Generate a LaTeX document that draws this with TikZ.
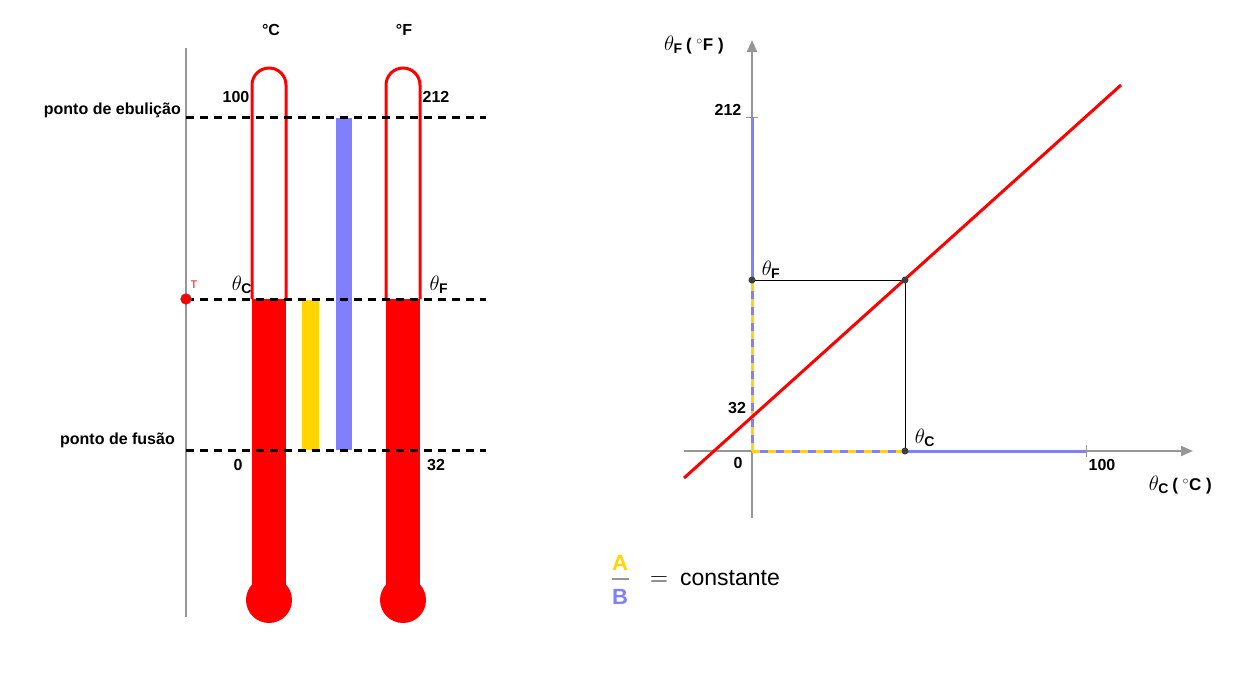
\documentclass[tikz,border=0pt]{standalone}
\usepackage{fontspec}
\setsansfont{Liberation Sans}
\newfontfamily\lab{Liberation Sans}
\usetikzlibrary{arrows.meta}
\definecolor{tred}{RGB}{255,0,0}
\definecolor{tblue}{RGB}{128,128,255}
\definecolor{tyel}{RGB}{255,214,0}
\definecolor{axg}{RGB}{150,150,150}
\newcommand{\subl}[1]{\hbox{\lab\bfseries\fontsize{14}{15}\selectfont #1}}
\tikzset{
 lbl/.style={font=\lab\bfseries\fontsize{16}{18}\selectfont, inner sep=0pt},
 th/.style={font=\fontsize{20}{22}\selectfont, inner sep=0pt},
 dl/.style={black, line width=3pt, dash pattern=on 8pt off 6pt},
 tube/.style={tred, line width=3pt},
 dot/.style={circle, fill=black!75, inner sep=0pt, minimum size=7pt},
 ax/.style={axg, line width=2pt, -{Triangle[length=12pt,width=10pt]}},
}
\begin{document}
\begin{tikzpicture}[x=1pt,y=-1pt]
\useasboundingbox (0,0) rectangle (1258,683);
% left panel
\draw[axg, line width=1.6pt] (186,48) -- (186,617);
% fills
\fill[tred] (252,299) rectangle (286,590);
\fill[tred] (269,600) circle (23);
\fill[tred] (386,299) rectangle (420,590);
\fill[tred] (403,600) circle (23);
\fill[tyel] (302,300) rectangle (319,450);
\fill[tblue] (336,118) rectangle (352,450);
% tubes
\draw[tube] (252,299) -- (252,85) arc[start angle=180,end angle=360,radius=17] -- (286,299);
\draw[tube] (386,299) -- (386,85) arc[start angle=180,end angle=360,radius=17] -- (420,299);
% dashed
\coordinate (e1) at (186,117); \coordinate (e2) at (486,117);
\coordinate (t1) at (186,299); \coordinate (t2) at (486,299);
\coordinate (f1) at (186,450); \coordinate (f2) at (486,450);
\draw[dl] (e1) -- (e2); \draw[dl] (t1) -- (t2); \draw[dl] (f1) -- (f2);
\node[circle, fill=tred, draw=black!60, inner sep=0pt, minimum size=11pt] (T) at (186,299) {};
\node[text=tred, font=\lab\fontsize{11}{12}\selectfont, inner sep=0pt] (Tl) at (194,285) {T};
\node[lbl] (c) at (271,30) {°C};
\node[lbl] (f) at (404,30) {°F};
\node[lbl] (l100) at (236,97) {100};
\node[lbl] (l212) at (436,97) {212};
\node[lbl, anchor=east] (pe) at (181,110) {ponto de ebulição};
\node[lbl, anchor=east] (pf) at (175,440) {ponto de fusão};
\node[lbl] (l0) at (238,465) {0};
\node[lbl] (l32) at (436,465) {32};
\node[th] (tc) at (242,285) {$\theta_{\subl{C}}$};
\node[th] (tf) at (439,285) {$\theta_{\subl{F}}$};
% right panel
\coordinate (O) at (752,451);
\draw[ax] (684,451) -- (1193,451);
\draw[ax] (752,518) -- (752,40);
\draw[axg, line width=1pt] (746,117) -- (758,117);
\draw[axg, line width=1pt] (1086,445) -- (1086,457);
\coordinate (P) at (905,280);
\coordinate (PY) at (752,280);
\coordinate (PX) at (905,451);
\coordinate (Y212) at (752,117);
\coordinate (X100) at (1086,451);
\draw[tblue, line width=3pt] (Y212) -- (PY);
\draw[tblue, line width=3pt] (PX) -- (X100);
\draw[tblue, line width=3pt] (O) -- (PY);
\draw[tyel, line width=3pt, dash pattern=on 8pt off 8pt] (O) -- (PY);
\draw[tblue, line width=3pt] (O) -- (PX);
\draw[tyel, line width=3pt, dash pattern=on 8pt off 8pt] (O) -- (PX);
\draw[black, line width=0.7pt] (PY) -- (P) -- (PX);
\draw[tred, line width=3pt] (684,478) -- (1121,85);
\node[dot] at (PY) {}; \node[dot] at (P) {}; \node[dot] at (PX) {};
\node[th, anchor=west] (yl) at (664,45) {$\theta_{\subl{F}}$\,{\lab\bfseries\fontsize{17}{18}\selectfont ( $^\circ$F )}};
\node[th, anchor=east] (xl) at (1212,485) {$\theta_{\subl{C}}$\,{\lab\bfseries\fontsize{17}{18}\selectfont ( $^\circ$C )}};
\node[lbl] (r212) at (728,110) {212};
\node[lbl] (r32) at (737,408) {32};
\node[lbl] (r0) at (738,463) {0};
\node[lbl] (r100) at (1102,465) {100};
\node[th] (rf) at (771,270) {$\theta_{\subl{F}}$};
\node[th] (rc) at (925,438) {$\theta_{\subl{C}}$};
% fraction
\node[lbl, text=tyel, font=\lab\bfseries\fontsize{22}{24}\selectfont] (A) at (620,563) {A};
\draw[axg, line width=1.5pt] (612,579) -- (629,579);
\node[lbl, text=tblue, font=\lab\bfseries\fontsize{22}{24}\selectfont] (B) at (620,597) {B};
\node[anchor=west, inner sep=0pt, font=\fontsize{24}{26}\selectfont] (eq) at (650,578) {$=$\hspace{12pt}{\sffamily\fontsize{23}{25}\selectfont constante}};
\end{tikzpicture}
\end{document}
